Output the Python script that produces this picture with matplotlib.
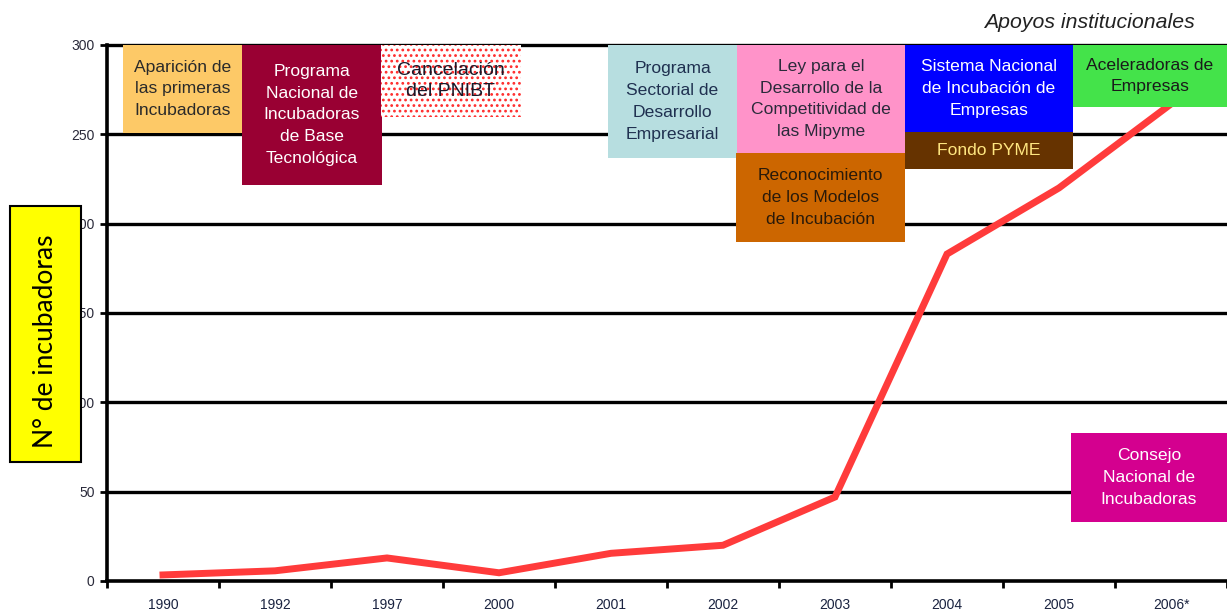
import matplotlib
matplotlib.use("Agg")
import matplotlib.pyplot as plt
from matplotlib.patches import Rectangle

# ---- data ----
years = ["1990", "1992", "1997", "2000", "2001", "2002", "2003", "2004", "2005", "2006*"]
incubadoras = [3.4, 5.7, 12.9, 4.6, 15.5, 20, 47, 183, 220, 267]
yticks = [0, 50, 100, 150, 200, 250, 300]

plt.rcParams['font.family'] = ['Liberation Sans', 'DejaVu Sans']
plt.rcParams['hatch.linewidth'] = 1.2

W, H = 1227, 610
fig = plt.figure(figsize=(W / 100, H / 100), dpi=100)
ax_left, ax_right, ax_top, ax_bot = 107, 1227, 45, 581
ax = fig.add_axes([ax_left / W, (H - ax_bot) / H, (ax_right - ax_left) / W, (ax_bot - ax_top) / H])

x = list(range(len(years)))
ax.plot(x, incubadoras, color='#ff3b3b', lw=5, solid_joinstyle='miter', zorder=3, clip_on=False)

ax.set_xlim(-0.5, len(years) - 0.5)
ax.set_ylim(0, 300)
ax.set_yticks(yticks)
ax.set_yticklabels([str(v) for v in yticks], fontsize=10, color='#2a2a3a')
ax.set_xticks([i + 0.5 for i in range(-1, len(years))], minor=False)
ax.set_xticklabels([])
ax.set_xticks(x, minor=True)
ax.set_xticklabels(years, minor=True, fontsize=10, color='#1a2340')
ax.tick_params(axis='x', which='major', direction='out', length=5, width=2, color='black')
ax.tick_params(axis='x', which='minor', length=0, pad=12)
ax.tick_params(axis='y', direction='out', length=5, width=2, color='black', pad=4)

for v in yticks[1:]:
    ax.axhline(v, color='black', lw=2.4, zorder=2, clip_on=False)
for s in ['top', 'right']:
    ax.spines[s].set_visible(False)
for s in ['left', 'bottom']:
    ax.spines[s].set_linewidth(2.6)
    ax.spines[s].set_zorder(4)

# ---- annotation boxes (pixel coords) ----
def px2data(px, py):
    xd = (px - 163) / 112.0
    yd = (ax_bot - py) / ((ax_bot - ax_top) / 300.0)
    return xd, yd

def box(x0, y0, x1, y1, fc, text, tc, fs=12.6, hatch=None, ls=1.58):
    (dx0, dy1) = px2data(x0, y1)
    (dx1, dy0) = px2data(x1, y0)
    if hatch:
        r = Rectangle((dx0, dy1), dx1 - dx0, dy0 - dy1, facecolor='white', edgecolor='#ff2a2a',
                      hatch=hatch, lw=0, zorder=5, clip_on=False)
    else:
        r = Rectangle((dx0, dy1), dx1 - dx0, dy0 - dy1, facecolor=fc, edgecolor='none',
                      lw=0, zorder=5, clip_on=False)
    ax.add_patch(r)
    ax.text((dx0 + dx1) / 2, (dy0 + dy1) / 2, text, ha='center', va='center', color=tc,
            fontsize=fs, linespacing=ls, zorder=6, clip_on=False)

box(123, 45, 242, 133, '#fdc967', 'Aparición de\nlas primeras\nIncubadoras', '#2a2a2a')
box(242, 45, 382, 185, '#990033', 'Programa\nNacional de\nIncubadoras\nde Base\nTecnológica', 'white')
box(381, 45, 521, 117, None, 'Cancelación\ndel PNIBT', '#1a1a2a', fs=14, ls=1.25, hatch='...')
box(608, 45, 737, 158, '#b7dee0', 'Programa\nSectorial de\nDesarrollo\nEmpresarial', '#1f3050')
box(737, 45, 905, 153, '#ff93c9', 'Ley para el\nDesarrollo de la\nCompetitividad de\nlas Mipyme', '#2a2a3a')
box(736, 153, 905, 242, '#cc6600', 'Reconocimiento\nde los Modelos\nde Incubación', '#2a1a0a')
box(905, 45, 1073, 132, '#0000ff', 'Sistema Nacional\nde Incubación de\nEmpresas', 'white')
box(905, 132, 1073, 169, '#663300', 'Fondo PYME', '#ffe680')
box(1073, 45, 1227, 107, '#44e34a', 'Aceleradoras de\nEmpresas', '#1a1a1a')
box(1071, 433, 1227, 522, '#d4008f', 'Consejo\nNacional de\nIncubadoras', 'white')

# title
fig.text(1195 / W, 1 - 22 / H, 'Apoyos institucionales', ha='right', va='center',
         fontsize=15.3, style='italic', color='#222222')

# y label box
fig.patches.append(Rectangle((10 / W, 1 - 462 / H), 71 / W, 256 / H, transform=fig.transFigure,
                             facecolor='#ffff00', edgecolor='black', lw=1.5, zorder=10))
fig.text(45.5 / W, 1 - 341 / H, 'N° de incubadoras', rotation=90, ha='center', va='center',
         fontsize=19, family=['Lato', 'DejaVu Sans'], color='black', zorder=11)

fig.savefig('out.png', dpi=100)
